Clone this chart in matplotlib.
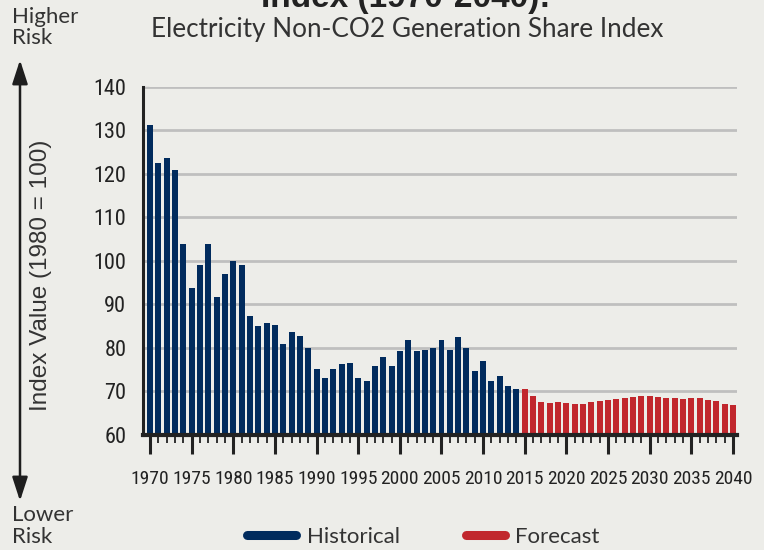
import numpy as np
import matplotlib
matplotlib.use("Agg")
import matplotlib.pyplot as plt
from matplotlib import font_manager
from matplotlib.lines import Line2D
from matplotlib.patches import FancyArrowPatch
from matplotlib.ticker import MultipleLocator

hist_years = list(range(1970, 2015))
hist_values = [131.2, 122.5, 123.6, 120.9, 103.9, 93.8, 99.1, 103.9, 91.7, 97.0,
               100.0, 99.1, 87.4, 85.0, 85.7, 85.3, 80.9, 83.7, 82.7, 80.0,
               75.2, 73.1, 75.2, 76.4, 76.6, 73.2, 72.5, 75.9, 78.0, 75.9,
               79.2, 81.9, 79.2, 79.6, 80.1, 81.9, 79.6, 82.6, 80.1, 74.8,
               77.1, 72.5, 73.6, 71.3, 70.6]

fcst_years = list(range(2015, 2041))
fcst_values = [70.6, 69.0, 67.6, 67.4, 67.6, 67.4, 67.2, 67.2, 67.6, 67.8,
               68.1, 68.3, 68.5, 68.8, 69.0, 69.0, 68.8, 68.5, 68.5, 68.3,
               68.5, 68.5, 68.1, 67.8, 67.2, 66.9]

year_ticks = list(range(1970, 2041, 5))
y_ticks = list(range(60, 141, 10))

BG = "#EDEDE9"
BLUE = "#012B5D"
RED = "#C1272D"
INK = "#222222"
TXT = "#333333"

SANS = ["Lato", "DejaVu Sans"]
ARIAL = ["Liberation Sans", "DejaVu Sans"]

# pick a condensed face for the tick numbers if one is around
installed = {f.name for f in font_manager.fontManager.ttflist}
condensed = [n for n in ("Liberation Sans Narrow", "Roboto Condensed",
                         "DejaVu Sans Condensed", "Open Sans Condensed",
                         "Noto Sans Condensed", "Arial Narrow")
             if n in installed]
if condensed:
    NUM_FONT = dict(family=condensed[0], stretch="normal")
    x_size, y_size = 14, 16
else:
    NUM_FONT = dict(family="DejaVu Sans", stretch="condensed")
    x_size, y_size = 12, 15
    if not any(f.name == "DejaVu Sans" and f.stretch == "condensed"
               for f in font_manager.fontManager.ttflist):
        NUM_FONT = dict(family="Liberation Sans", stretch="normal")
        x_size, y_size = 12, 15

W, H = 764, 550


def fx(px):
    return px / W


def fy(py):
    return 1 - py / H


fig = plt.figure(figsize=(7.64, 5.5), dpi=100, facecolor=BG)
ax = fig.add_axes([fx(143), fy(435), fx(737) - fx(143), fy(87) - fy(435)])
ax.set_facecolor(BG)

ax.bar(hist_years, np.array(hist_values) - 60, bottom=60, width=0.72,
       color=BLUE, zorder=3)
ax.bar(fcst_years, np.array(fcst_values) - 60, bottom=60, width=0.72,
       color=RED, zorder=3)

ax.set_xlim(1969.16, 2040.48)
ax.set_ylim(60, 140)

ax.set_yticks(y_ticks)
ax.set_xticks(year_ticks)
ax.xaxis.set_minor_locator(MultipleLocator(1))
ax.grid(axis="y", color="#BFBFBF", linewidth=2, zorder=1)

for side in ("top", "right"):
    ax.spines[side].set_visible(False)
ax.spines["left"].set_linewidth(2.2)
ax.spines["left"].set_color(INK)
ax.spines["bottom"].set_linewidth(3)
ax.spines["bottom"].set_color(INK)
ax.spines["left"].set_zorder(4)
ax.spines["bottom"].set_zorder(4)

ax.tick_params(axis="x", which="major", length=14, width=2.2, color=INK,
               pad=11)
ax.tick_params(axis="x", which="minor", length=6, width=1.3, color=INK)
ax.tick_params(axis="y", which="major", length=4, width=1, color="#BFBFBF",
               direction="in", pad=12)

for lab in ax.get_xticklabels():
    lab.set_family(NUM_FONT["family"])
    lab.set_stretch(NUM_FONT["stretch"])
    lab.set_fontsize(x_size)
    lab.set_color(INK)
for lab in ax.get_yticklabels():
    lab.set_family(NUM_FONT["family"])
    lab.set_stretch(NUM_FONT["stretch"])
    lab.set_fontsize(y_size)
    lab.set_color(INK)

ax.set_ylabel("Index Value (1980 = 100)", family=ARIAL, fontsize=17.5,
              color=TXT)
ax.yaxis.set_label_coords(fx(52), 0.5, transform=fig.transFigure)

# titles (the first line sits mostly above the canvas)
fig.text(fx(406), fy(7), "Index (1970-2040):", ha="center", va="baseline",
         family=ARIAL, fontweight="bold", fontsize=24, color=INK)
fig.text(fx(407), fy(37), "Electricity Non-CO2 Generation Share Index",
         ha="center", va="baseline", family=SANS, fontsize=18.8, color=TXT)

# risk direction arrow
fig.add_artist(FancyArrowPatch(
    (fx(20), fy(60)), (fx(20), fy(501)), transform=fig.transFigure,
    arrowstyle="<|-|>,head_length=1.45,head_width=0.47", mutation_scale=10,
    linewidth=1.8, color="#1E1E1E", shrinkA=0, shrinkB=0))
fig.text(fx(12), fy(7), "Higher\nRisk", ha="left", va="top", family=SANS,
         fontsize=16, color=TXT, linespacing=1.05)
fig.text(fx(12), fy(505), "Lower\nRisk", ha="left", va="top", family=SANS,
         fontsize=16, color=TXT, linespacing=1.1)

# legend
for x0, x1, col, tx, label in [(247, 296, BLUE, 307, "Historical"),
                               (466, 505, RED, 515, "Forecast")]:
    fig.add_artist(Line2D([fx(x0), fx(x1)], [fy(535), fy(535)],
                          transform=fig.transFigure, color=col, linewidth=6.5,
                          solid_capstyle="round"))
    fig.text(fx(tx), fy(535), label, ha="left", va="center_baseline",
             family=SANS, fontsize=16, color=TXT)

fig.savefig("out.png", dpi=100, facecolor=BG)
